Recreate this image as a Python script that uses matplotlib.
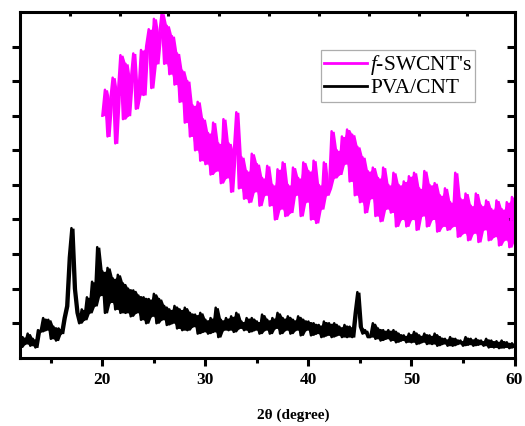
import numpy as np
import pandas as pd
import matplotlib
matplotlib.use('Agg')
import matplotlib.pyplot as plt

plt.rcParams['font.family'] = ['Liberation Serif', 'DejaVu Serif']
plt.rcParams['mathtext.fontset'] = 'custom'
plt.rcParams['mathtext.rm'] = 'Liberation Serif'
plt.rcParams['mathtext.it'] = 'Liberation Serif:italic'

# 2theta grids (0.25 degree steps)
two_theta_swcnt = np.arange(20.0, 60.01, 0.25)
two_theta_pva = np.arange(12.0, 60.01, 0.25)

# f-SWCNT's intensity (a.u.)
swcnt = [
    700, 775, 640, 740, 810, 620, 760, 875,
    690, 850, 700, 800, 880, 720, 760, 890,
    760, 900, 950, 780, 980, 850, 930, 995,
    850, 960, 820, 930, 790, 880, 740, 830,
    680, 800, 640, 730, 600, 740, 570, 690,
    560, 650, 530, 680, 540, 620, 505, 690,
    520, 620, 480, 590, 710, 490, 580, 460,
    540, 450, 590, 480, 560, 440, 520, 470,
    555, 440, 500, 400, 545, 430, 565, 410,
    500, 420, 550, 470, 520, 410, 565, 450,
    540, 400, 570, 390, 500, 430, 565, 470,
    490, 655, 520, 600, 530, 640, 560, 660,
    510, 645, 470, 610, 450, 580, 420, 540,
    460, 550, 410, 520, 395, 550, 430, 500,
    420, 535, 380, 500, 400, 510, 380, 525,
    400, 535, 370, 490, 410, 540, 380, 500,
    400, 505, 365, 470, 380, 490, 370, 450,
    380, 535, 350, 460, 360, 475, 340, 440,
    360, 475, 335, 440, 370, 455, 340, 430,
    350, 455, 325, 430, 340, 450, 320, 465,
    340,
]

# PVA/CNT intensity (a.u.)
pva = [
    30, 60, 40, 70, 35, 55, 30, 80,
    75, 115, 80, 110, 55, 90, 50, 85,
    70, 115, 150, 290, 375, 200, 130, 100,
    140, 110, 175, 130, 220, 150, 320, 180,
    250, 130, 260, 160, 230, 140, 240, 130,
    215, 130, 200, 120, 195, 130, 180, 110,
    175, 100, 170, 120, 185, 100, 170, 110,
    150, 95, 140, 100, 150, 85, 140, 80,
    145, 80, 130, 90, 125, 70, 130, 75,
    110, 70, 115, 75, 145, 60, 110, 80,
    115, 80, 120, 75, 130, 85, 105, 80,
    115, 75, 115, 80, 105, 70, 125, 80,
    110, 70, 115, 85, 130, 70, 115, 80,
    120, 70, 110, 80, 120, 65, 110, 80,
    105, 65, 100, 70, 95, 60, 105, 65,
    100, 60, 100, 65, 90, 60, 95, 60,
    90, 60, 130, 190, 90, 70, 80, 60,
    60, 100, 55, 85, 50, 80, 55, 80,
    50, 80, 45, 70, 50, 65, 45, 70,
    45, 75, 40, 65, 45, 70, 40, 65,
    40, 70, 35, 60, 40, 55, 35, 60,
    35, 55, 40, 50, 35, 60, 38, 55,
    35, 55, 38, 50, 35, 55, 30, 50,
    30, 48, 28, 50, 30, 45, 28, 42,
    32,
]

x_ticks = [20, 30, 40, 50, 60]
top_ticks = [16.9, 21.7, 26.4, 31.3, 36.2, 41.0, 45.9, 50.7, 55.4]

fig = plt.figure(figsize=(5.25, 4.26), dpi=100)
ax = fig.add_axes([0.038, 0.160, 0.942, 0.812])

# the scans are dense: fill between neighbouring readings, then draw the trace on top
for xs, ys, col, lab in [(two_theta_swcnt, swcnt, '#ff00ff', "$f$-SWCNT's"),
                         (two_theta_pva, pva, 'black', 'PVA/CNT')]:
    s = pd.Series(ys)
    lo = s.rolling(2, min_periods=1).min()
    hi = s.rolling(2, min_periods=1).max()
    ax.fill_between(xs, lo, hi, color=col, lw=0)
    ax.plot(xs, ys, color=col, lw=1.8, label=lab)

ax.set_xlim(12, 60)
ax.set_ylim(0, 1000)

for s in ax.spines.values():
    s.set_linewidth(2.2)

ax.set_xticks(x_ticks)
ax.set_xticks(np.arange(15, 60, 10), minor=True)
ax.set_yticks(np.arange(100, 1000, 100))
ax.set_yticklabels([])
ax.tick_params(axis='x', which='major', direction='out', length=6, width=2.2, pad=4.5,
               labelsize=12.5)
ax.tick_params(axis='x', which='minor', direction='out', length=3.5, width=2.2)
ax.tick_params(axis='y', which='major', direction='out', length=6, width=2.2,
               right=True)
for lbl in ax.get_xticklabels():
    lbl.set_fontweight('bold')

# right side ticks point inward
for t in ax.yaxis.get_major_ticks():
    t.tick2line.set_marker(matplotlib.lines.TICKLEFT)

top = ax.secondary_xaxis('top')
top.set_xticks(top_ticks)
top.set_xticklabels([])
top.tick_params(direction='in', length=3, width=2.2)

ax.set_xlabel('2θ (degree)', fontsize=11, fontweight='bold', va='center')
ax.xaxis.set_label_coords(0.552, -0.167)

leg = ax.legend(loc='upper right', bbox_to_anchor=(0.921, 0.89), fontsize=15.5,
                frameon=True, fancybox=False, edgecolor='#999999',
                handlelength=2.0, handletextpad=0.15, borderpad=0.15,
                labelspacing=0.05, borderaxespad=0)
leg.get_frame().set_linewidth(0.9)
for line in leg.get_lines():
    line.set_linewidth(2.0)

fig.savefig('out.png', dpi=100)
